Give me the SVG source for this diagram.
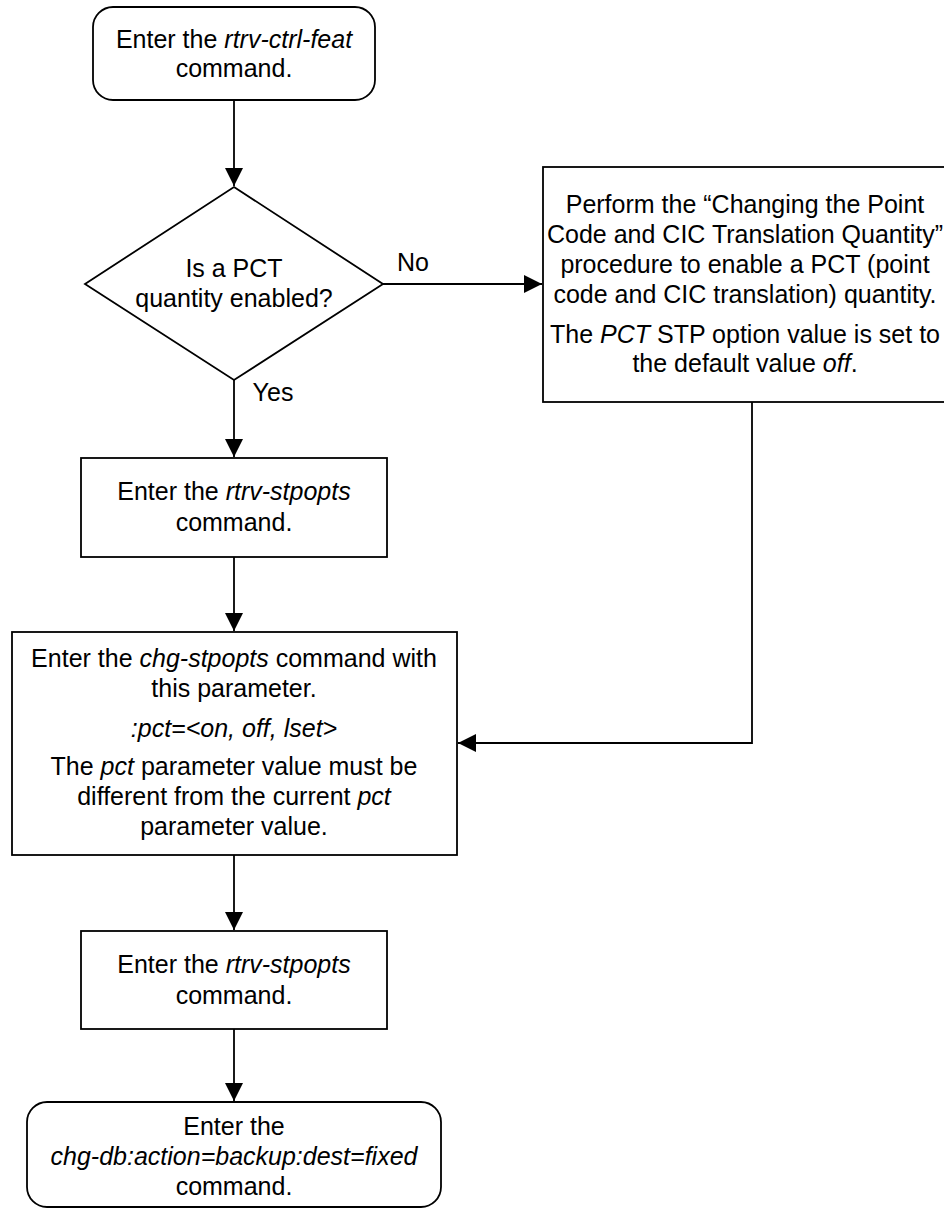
<svg xmlns="http://www.w3.org/2000/svg" width="944" height="1209" viewBox="0 0 944 1209">
<style>
.shape{fill:#fff;stroke:#000;stroke-width:1.8}
.conn{fill:none;stroke:#000;stroke-width:1.8}
text{font-family:"Liberation Sans",Arial,sans-serif;font-size:25px;fill:#000;text-anchor:middle}
.i{font-style:italic}
</style>
<defs>
<marker id="arr" markerUnits="userSpaceOnUse" markerWidth="20" markerHeight="18" refX="18" refY="9" orient="auto">
<path d="M0,0 L18,9 L0,18 Z" fill="#000"/>
</marker>
</defs>
<rect width="944" height="1209" fill="#fff"/>
<g id="connectors">
<path class="conn" d="M234,101 V186" marker-end="url(#arr)"/>
<path class="conn" d="M383,284 H542" marker-end="url(#arr)"/>
<path class="conn" d="M234,380 V457" marker-end="url(#arr)"/>
<path class="conn" d="M234,557 V631" marker-end="url(#arr)"/>
<path class="conn" d="M752,402 V743 H458" marker-end="url(#arr)"/>
<path class="conn" d="M234,855 V930" marker-end="url(#arr)"/>
<path class="conn" d="M234,1029 V1101" marker-end="url(#arr)"/>
</g>
<g id="labels">
<text x="413" y="271">No</text>
<text x="273" y="401">Yes</text>
</g>
<g id="start">
<rect class="shape" x="93" y="7" width="282" height="93" rx="20"/>
<text x="234" y="48">Enter the <tspan class="i">rtrv-ctrl-feat</tspan></text>
<text x="234" y="77">command.</text>
</g>
<g id="decision">
<polygon class="shape" points="234,187 383,284 234,380 85,284"/>
<text x="234" y="277">Is a PCT</text>
<text x="234" y="307">quantity enabled?</text>
</g>
<g id="enable">
<rect class="shape" x="543" y="167" width="410" height="235"/>
<text x="745" y="213">Perform the “Changing the Point</text>
<text x="745" y="243">Code and CIC Translation Quantity”</text>
<text x="745" y="273">procedure to enable a PCT (point</text>
<text x="745" y="303">code and CIC translation) quantity.</text>
<text x="745" y="343">The <tspan class="i">PCT</tspan> STP option value is set to</text>
<text x="745" y="372">the default value <tspan class="i">off</tspan>.</text>
</g>
<g id="rtrv1">
<rect class="shape" x="81" y="458" width="306" height="99"/>
<text x="234" y="500">Enter the <tspan class="i">rtrv-stpopts</tspan></text>
<text x="234" y="531">command.</text>
</g>
<g id="chg">
<rect class="shape" x="12" y="632" width="445" height="223"/>
<text x="234" y="667">Enter the <tspan class="i">chg-stpopts</tspan> command with</text>
<text x="234" y="697">this parameter.</text>
<text x="234" y="737" class="i">:pct=&lt;on, off, lset&gt;</text>
<text x="234" y="775">The <tspan class="i">pct</tspan> parameter value must be</text>
<text x="234" y="805">different from the current <tspan class="i">pct</tspan></text>
<text x="234" y="835">parameter value.</text>
</g>
<g id="rtrv2">
<rect class="shape" x="81" y="931" width="306" height="98"/>
<text x="234" y="973">Enter the <tspan class="i">rtrv-stpopts</tspan></text>
<text x="234" y="1004">command.</text>
</g>
<g id="end">
<rect class="shape" x="27" y="1102" width="414" height="105" rx="20"/>
<text x="234" y="1135">Enter the</text>
<text x="234" y="1165" class="i">chg-db:action=backup:dest=fixed</text>
<text x="234" y="1195">command.</text>
</g>
</svg>
